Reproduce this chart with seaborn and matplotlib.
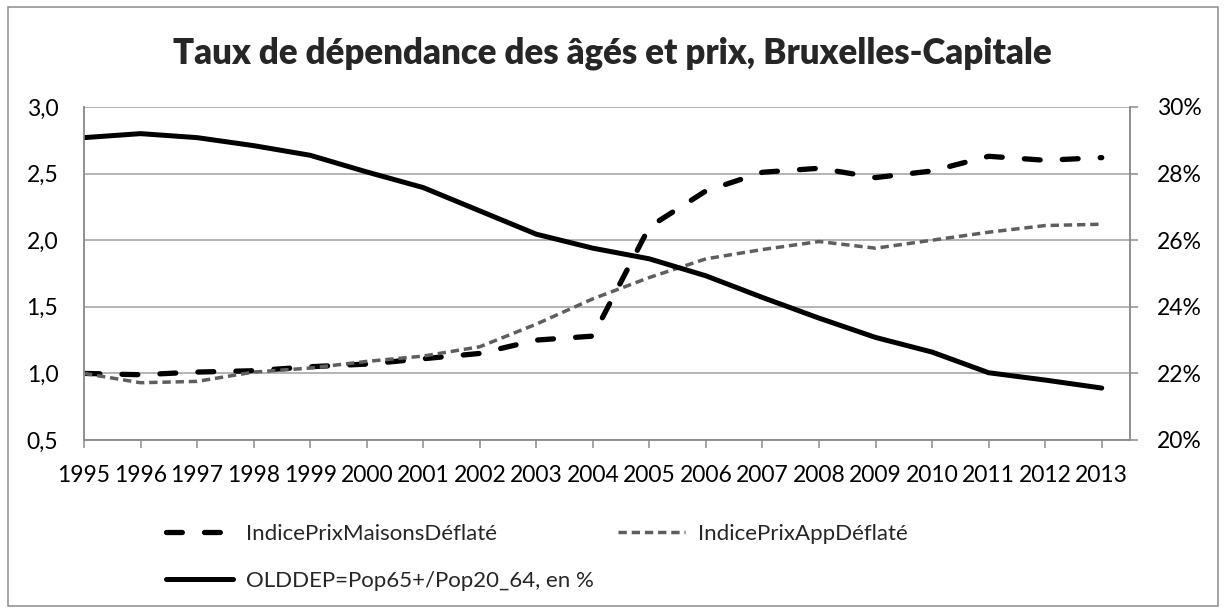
import matplotlib
matplotlib.use("Agg")
import matplotlib.pyplot as plt
import seaborn as sns
import pandas as pd
from matplotlib.patches import Rectangle

# Data
years = list(range(1995, 2014))
prix_maisons = [1.00, 0.99, 1.01, 1.02, 1.05, 1.07, 1.11, 1.15, 1.25, 1.28,
                2.10, 2.37, 2.51, 2.54, 2.47, 2.52, 2.63, 2.60, 2.62]
prix_app = [1.00, 0.93, 0.94, 1.01, 1.04, 1.09, 1.13, 1.20, 1.37, 1.56,
            1.72, 1.86, 1.93, 1.99, 1.94, 2.00, 2.06, 2.11, 2.12]
olddep = [29.08, 29.20, 29.08, 28.84, 28.55, 28.05, 27.58, 26.88, 26.18, 25.76,
          25.44, 24.93, 24.28, 23.66, 23.08, 22.64, 22.02, 21.80, 21.56]

left_ticks = [0.5, 1.0, 1.5, 2.0, 2.5, 3.0]
left_labels = ["0,5", "1,0", "1,5", "2,0", "2,5", "3,0"]
right_ticks = [20, 22, 24, 26, 28, 30]
right_labels = ["20%", "22%", "24%", "26%", "28%", "30%"]

title = "Taux de dépendance des âgés et prix, Bruxelles-Capitale"
lab_maisons = "IndicePrixMaisonsDéflaté"
lab_app = "IndicePrixAppDéflaté"
lab_old = "OLDDEP=Pop65+/Pop20_64, en %"

sns.set_theme(style="white")
plt.rcParams['font.family'] = ['Lato', 'DejaVu Sans']

df = pd.DataFrame({'annee': years, 'maisons': prix_maisons,
                   'app': prix_app, 'olddep': olddep})

W, H = 1224, 610
fig = plt.figure(figsize=(W / 100, H / 100), dpi=100)
ax = fig.add_axes([84 / W, 1 - 440 / H, (1130 - 84) / W, (440 - 107) / H])
ax2 = ax.twinx()

grid_col = '#a0a0a0'
spine_col = '#8c8c8c'

# --- left axis: price indices ---
sns.lineplot(data=df, x='annee', y='maisons', ax=ax, color='black',
             linewidth=3.8, linestyle=(0, (3.0, 4.2)), dash_capstyle='round',
             label=lab_maisons)
sns.lineplot(data=df, x='annee', y='app', ax=ax, color='#5e5e5e',
             linewidth=2.5, linestyle=(0, (2.4, 1.4)), label=lab_app)

# --- right axis: old-age dependency ---
sns.lineplot(data=df, x='annee', y='olddep', ax=ax2, color='black',
             linewidth=3.6, solid_capstyle='round', label=lab_old)

ax.set_xlim(1995, 2013.5)
ax.set_ylim(0.5, 3.0)
ax2.set_ylim(20, 30)
ax.set_xticks(years)
ax.set_xticklabels([str(y) for y in years])
ax.set_yticks(left_ticks)
ax.set_yticklabels(left_labels)
ax2.set_yticks(right_ticks)
ax2.set_yticklabels(right_labels)
ax.set_xlabel('')
ax.set_ylabel('')
ax2.set_ylabel('')

ax.yaxis.grid(True, color=grid_col, linewidth=1.1)
ax.xaxis.grid(False)
ax2.grid(False)

for a in (ax, ax2):
    for s in a.spines.values():
        s.set_color(spine_col)
        s.set_linewidth(1.1)
    a.spines['top'].set_visible(False)

ax.tick_params(axis='x', bottom=True, length=5.8, width=1.1, color=spine_col,
               pad=12.5, labelsize=16.5, labelcolor='black')
ax.tick_params(axis='y', left=False, length=0, pad=18.5, labelsize=16.5,
               labelcolor='black')
ax2.tick_params(axis='y', right=True, length=5.8, width=1.1, color=spine_col,
                pad=13.5, labelsize=16.5, labelcolor='black')

# legend below the plot, two columns
for a in (ax, ax2):
    if a.get_legend() is not None:
        a.get_legend().remove()
h1, l1 = ax.get_legend_handles_labels()
h2, l2 = ax2.get_legend_handles_labels()
fig.legend(handles=[h1[0], h2[0], h1[1]], labels=[l1[0], l2[0], l1[1]],
           ncol=2, loc='upper left', bbox_to_anchor=(166 / W, 1 - 524 / H),
           frameon=False, fontsize=16, handlelength=3.0, handletextpad=0.6,
           columnspacing=1.1, borderpad=0, borderaxespad=0, labelspacing=1.2)

fig.text(0.5, 1 - 63 / H, title, ha='center', va='baseline',
         fontsize=25, fontweight='heavy')

# outer chart frame
fig.patches.append(Rectangle((8 / W, 4 / H), 1210 / W, 599 / H,
                             transform=fig.transFigure, fill=False,
                             edgecolor=spine_col, linewidth=1.1))

fig.savefig('out.png', dpi=100)
